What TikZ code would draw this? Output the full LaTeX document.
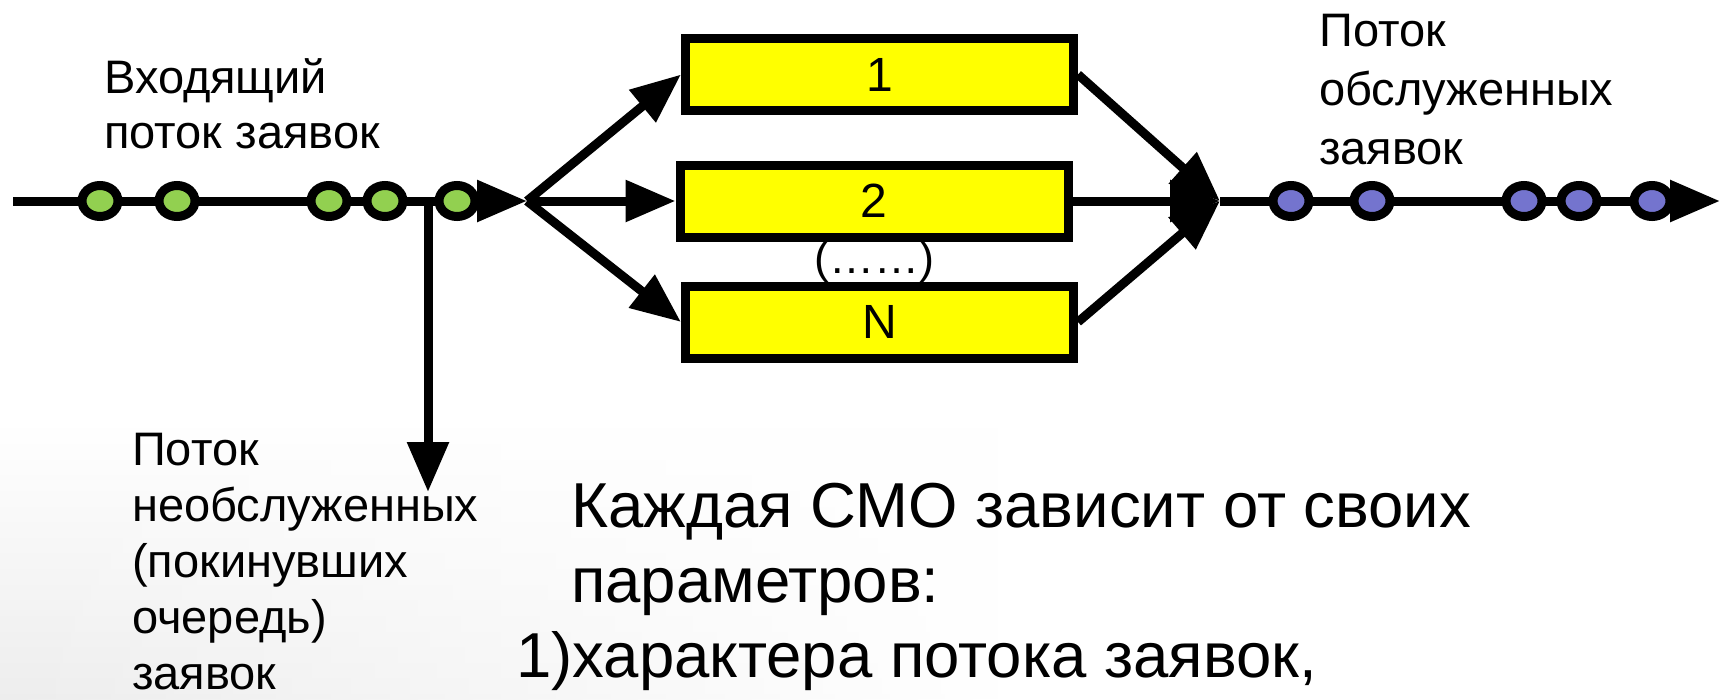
\documentclass[tikz,border=0pt]{standalone}
\usepackage{fontspec}
\setmainfont{Liberation Sans}
\usetikzlibrary{arrows.meta,shapes.geometric,fadings}

\definecolor{reqgreen}{HTML}{92D050}
\definecolor{reqblue}{HTML}{7474CE}
\definecolor{chanyellow}{HTML}{FFFF00}

\begin{document}
\begin{tikzpicture}[x=1pt,y=-1pt,
  flowline/.style={line width=9pt, draw=black},
  flowarrow/.style={flowline, -{Triangle[length=50pt,width=40pt]}},
  chanbox/.style={draw=black, fill=chanyellow, line width=9pt, rectangle,
    minimum width=388pt, minimum height=72pt, inner sep=0pt,
    font=\fontsize{48}{48}\selectfont},
  reqdot/.style={ellipse, draw=black, line width=9pt, minimum width=36pt,
    minimum height=31pt, inner sep=0pt},
  indot/.style={reqdot, fill=reqgreen},
  outdot/.style={reqdot, fill=reqblue},
  lbl/.style={anchor=base west, inner sep=0pt, font=\fontsize{47}{57}\selectfont},
  bigtxt/.style={anchor=base west, inner sep=0pt, font=\fontsize{63.5}{75}\selectfont}]

% canvas with a faint grey haze in the lower left
\fill[white] (0,0) rectangle (1723,699);
\shade[top color=white, bottom color=black!7, path fading=east] (0,420) rectangle (1000,699);
\useasboundingbox (0,0) rectangle (1723,699);

% junction points
\coordinate (src) at (13,201);
\coordinate (fork) at (527,201);
\coordinate (drop) at (428,201);
\coordinate (lost) at (428,492);
\coordinate (merge) at (1220,201);
\coordinate (sink) at (1720,201);

% hidden-channels mark, partly covered by the boxes
\node[inner sep=0pt, font=\fontsize{45}{45}\selectfont] (dots) at (874,262) {(……)};

% service channels
\node[chanbox] (ch1) at (879.5,74.5) {1};
\node[chanbox] (ch2) at (874,201) {2};
\node[chanbox] (chN) at (879.5,322) {N};

% incoming stream and refusals
\draw[flowarrow] (src) -- (fork);
\draw[flowarrow] (drop) -- (lost);

% distribution to channels
\draw[flowarrow] (fork) -- (ch1.west);
\draw[flowarrow] (fork) -- (ch2.west);
\draw[flowarrow] (fork) -- (chN.west);

% collection of served requests
\draw[flowarrow] (ch1.east) -- (merge);
\draw[flowarrow] (chN.east) -- (merge);
\draw[flowarrow] (ch2.east) -- (merge);
\draw[flowarrow] (merge) -- (sink);

% requests on the streams
\node[indot] (in1) at (100,201) {};
\node[indot] (in2) at (177,201) {};
\node[indot] (in3) at (329,201) {};
\node[indot] (in4) at (385,201) {};
\node[indot] (in5) at (457,201) {};

\node[outdot] (out1) at (1291,201) {};
\node[outdot] (out2) at (1372,201) {};
\node[outdot] (out3) at (1524,201) {};
\node[outdot] (out4) at (1579,201) {};
\node[outdot] (out5) at (1652,201) {};

% labels
\node[lbl] (inA) at (104,93) {Входящий};
\node[lbl] (inB) at (104,148) {поток заявок};

\node[lbl] (srvA) at (1319,46) {Поток};
\node[lbl] (srvB) at (1319,105) {обслуженных};
\node[lbl] (srvC) at (1319,164) {заявок};

\node[lbl] (lostA) at (132,465) {Поток};
\node[lbl] (lostB) at (132,521) {необслуженных};
\node[lbl] (lostC) at (132,577) {(покинувших};
\node[lbl] (lostD) at (132,633) {очередь)};
\node[lbl] (lostE) at (132,689) {заявок};

% note
\node[bigtxt] (noteA) at (571,527) {Каждая СМО зависит от своих};
\node[bigtxt] (noteB) at (571,602) {параметров:};
\node[bigtxt] (noteC) at (516,677) {1)характера потока заявок,};
\end{tikzpicture}
\end{document}
